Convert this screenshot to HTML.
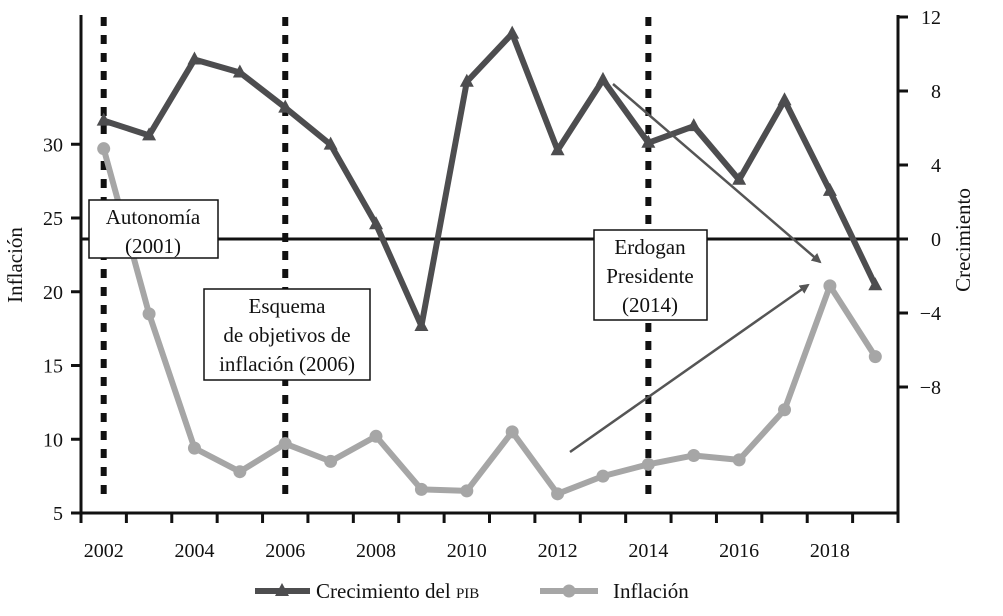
<!DOCTYPE html>
<html><head><meta charset="utf-8"><style>
body{margin:0;background:#fff}
svg text{font-family:"Liberation Serif",serif;fill:#111}
</style></head><body>
<svg id="chart" width="1003" height="611" xmlns="http://www.w3.org/2000/svg">
</svg>
<script>
const years=[2002,2003,2004,2005,2006,2007,2008,2009,2010,2011,2012,2013,2014,2015,2016,2017,2018,2019];
const growth=[6.4,5.6,9.7,9.0,7.1,5.1,0.8,-4.7,8.5,11.1,4.8,8.6,5.2,6.1,3.2,7.5,2.6,-2.5];
const inflation=[29.7,18.5,9.4,7.8,9.7,8.5,10.2,6.6,6.5,10.5,6.3,7.5,8.3,8.9,8.6,12.0,20.4,15.6];
const xTicks=[2002,2004,2006,2008,2010,2012,2014,2016,2018];
const leftTicks=[5,10,15,20,25,30];
const rightTicks=[-8,-4,0,4,8,12];
const eventYears=[2002,2006,2014];

const svg=document.getElementById('chart');
const NS='http://www.w3.org/2000/svg';
const AX0=81, AX1=898, AY0=15, AY1=513;
const STEP=(AX1-AX0)/18;
const X=y=>AX0+STEP/2+(y-2002)*STEP;
const YL=v=>513-(v-5)*14.75;
const YR=v=>239-v*18.5;
function mk(tag,attrs,parent){const e=document.createElementNS(NS,tag);for(const k in attrs)e.setAttribute(k,attrs[k]);(parent||svg).appendChild(e);return e;}

let e;
e=mk('line',{x1:AX0,y1:AY0,x2:AX0,y2:AY1+1.5,stroke:'#111','stroke-width':3});


e=mk('line',{x1:AX1,y1:AY0,x2:AX1,y2:AY1+10,stroke:'#111','stroke-width':3});


e=mk('line',{x1:AX0,y1:AY1,x2:AX1,y2:AY1,stroke:'#111','stroke-width':3});


e=mk('line',{x1:AX0,y1:YR(0),x2:AX1,y2:YR(0),stroke:'#111','stroke-width':3});



for(let i=0;i<=18;i++){
  const tx=AX0+i*STEP;
  mk('line',{x1:tx,y1:AY1,x2:tx,y2:AY1+10,stroke:'#111','stroke-width':3});
}
xTicks.forEach(t=>{
  e=mk('text',{x:X(t),y:557,'text-anchor':'middle','font-size':20});e.textContent=t;
  
  
});
leftTicks.forEach(t=>{
  mk('line',{x1:71,y1:YL(t),x2:AX0,y2:YL(t),stroke:'#111','stroke-width':3});
  e=mk('text',{x:63,y:YL(t)+7,'text-anchor':'end','font-size':20});e.textContent=t;
  
  
});
rightTicks.forEach(t=>{
  mk('line',{x1:AX1,y1:YR(t),x2:AX1+10,y2:YR(t),stroke:'#111','stroke-width':3});
  e=mk('text',{x:941,y:YR(t)+7,'text-anchor':'end','font-size':20});e.textContent=(t<0?'\u2212'+(-t):t);
  
  
});
e=mk('text',{x:0,y:0,'font-size':21,'text-anchor':'middle',transform:'translate(22,265) rotate(-90)'});e.textContent='Inflación';


e=mk('text',{x:0,y:0,'font-size':21,'text-anchor':'middle',transform:'translate(970,240) rotate(-90)'});e.textContent='Crecimiento';



eventYears.forEach(t=>{
  e=mk('line',{x1:X(t),y1:17,x2:X(t),y2:503,stroke:'#111','stroke-width':6,'stroke-dasharray':'9,9'});
  
  
});

const gp=years.map((y,i)=>X(y)+','+YR(growth[i])).join(' ');
e=mk('polyline',{points:gp,fill:'none',stroke:'#4d4d4f','stroke-width':6,'stroke-linejoin':'round'});


years.forEach((y,i)=>{const cx=X(y),cy=YR(growth[i]);
  e=mk('polygon',{points:`${cx},${cy-8} ${cx-7},${cy+5} ${cx+7},${cy+5}`,fill:'#4d4d4f'});
  
  });
const ip=years.map((y,i)=>X(y)+','+YL(inflation[i])).join(' ');
e=mk('polyline',{points:ip,fill:'none',stroke:'#a6a6a6','stroke-width':6,'stroke-linejoin':'round'});


years.forEach((y,i)=>{
  e=mk('circle',{cx:X(y),cy:YL(inflation[i]),r:6.5,fill:'#a6a6a6'});
  
  });

mk('defs',{}).innerHTML='<marker id="ah" markerWidth="10" markerHeight="10" refX="8" refY="5" orient="auto" markerUnits="userSpaceOnUse"><path d="M0,0 L10,5 L0,10 Z" fill="#555"/></marker>';
e=mk('line',{x1:613,y1:84,x2:820,y2:262,stroke:'#555','stroke-width':2.5,'marker-end':'url(#ah)'});


e=mk('line',{x1:570,y1:452,x2:808,y2:285,stroke:'#555','stroke-width':2.5,'marker-end':'url(#ah)'});



function box(name,x,y,w,h,lines,cx){
  const g=mk('g',{});
  
  
  mk('rect',{x:x,y:y,width:w,height:h,fill:'#fff',stroke:'#111','stroke-width':1.5},g);
  lines.forEach((l,i)=>{const t=mk('text',{x:cx,y:y+24+i*29,'text-anchor':'middle','font-size':21},g);t.textContent=l;});
}
box('autonomia-annotation',89,200,129,58,['Autonomía','(2001)'],153);
box('inflation-targeting-annotation',204,289,166,91,['Esquema','de objetivos de','inflación (2006)'],287);
box('erdogan-annotation',594,230,113,90,['Erdogan','Presidente','(2014)'],650);

let lg=mk('g',{});


mk('line',{x1:255,y1:591,x2:310,y2:591,stroke:'#4d4d4f','stroke-width':6},lg);
mk('polygon',{points:'282,583 275,596 289,596',fill:'#4d4d4f'},lg);
let t=mk('text',{x:316,y:598,'font-size':21},lg);t.innerHTML='Crecimiento del <tspan font-size="15">PIB</tspan>';
lg=mk('g',{});


mk('line',{x1:540,y1:591,x2:598,y2:591,stroke:'#a6a6a6','stroke-width':6},lg);
mk('circle',{cx:569,cy:591,r:6.5,fill:'#a6a6a6'},lg);
t=mk('text',{x:613,y:598,'font-size':21},lg);t.textContent='Inflación';
</script>
</body></html>
